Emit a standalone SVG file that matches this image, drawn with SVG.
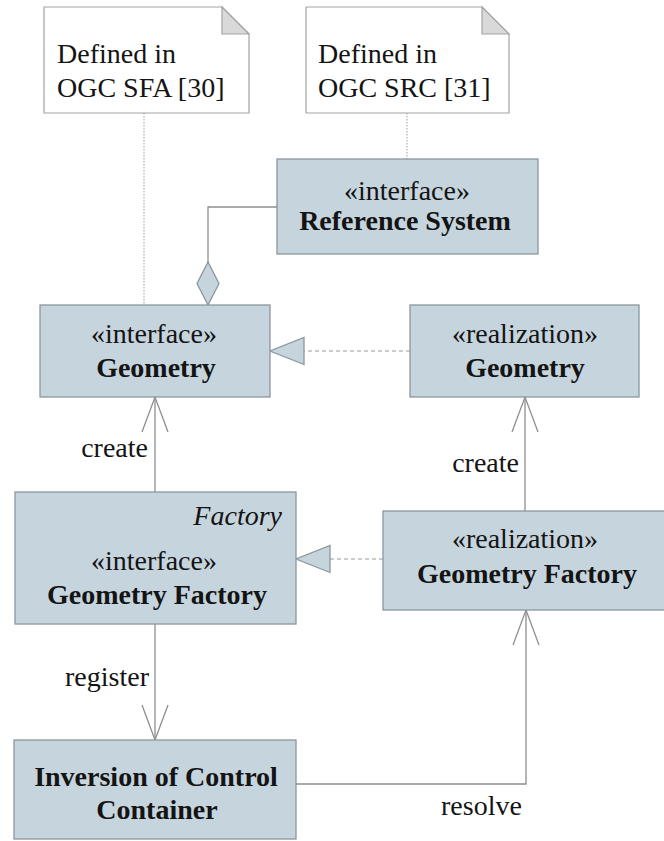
<svg xmlns="http://www.w3.org/2000/svg" width="664" height="841" viewBox="0 0 664 841">
  <style>
    .box { fill: #c6d4de; stroke: #8c979d; stroke-width: 1.3; }
    .note { fill: #ffffff; stroke: #a3a3a3; stroke-width: 1.2; }
    .fold { fill: #d9d9d9; stroke: #a3a3a3; stroke-width: 1.2; }
    .t { font-family: "Liberation Serif", "Times New Roman", serif; font-size: 28px; fill: #141414; }
    .c { text-anchor: middle; }
    .b { font-weight: bold; }
    .i { font-style: italic; }
    .link { fill: none; stroke: #8e8e8e; stroke-width: 1.3; }
    .dash { fill: none; stroke: #9a9a9a; stroke-width: 1.2; stroke-dasharray: 4 3; }
    .dot { fill: none; stroke: #b0b0b0; stroke-width: 1.2; stroke-dasharray: 1.5 1.5; }
    .head { fill: none; stroke: #8e8e8e; stroke-width: 1.3; stroke-dasharray: none; }
    .tri { fill: #c6d4de; stroke: #8c979d; stroke-width: 1.3; stroke-dasharray: none; }
  </style>
  <defs>
    <!-- open arrowhead for dependencies -->
    <marker id="open" markerUnits="userSpaceOnUse" viewBox="-37 -15 39 30" refX="0" refY="0" markerWidth="39" markerHeight="30" orient="auto" overflow="visible">
      <path class="head" d="M-35,-13 L0,0 L-35,13"/>
    </marker>
    <!-- hollow triangle for realization -->
    <marker id="realize" markerUnits="userSpaceOnUse" viewBox="-36 -15 38 30" refX="0" refY="0" markerWidth="38" markerHeight="30" orient="auto" overflow="visible">
      <path class="tri" d="M-34,-13.5 L0,0 L-34,13.5 Z"/>
    </marker>
    <!-- filled diamond for composition -->
    <marker id="diamond" markerUnits="userSpaceOnUse" viewBox="-1 -12 45 24" refX="0" refY="0" markerWidth="45" markerHeight="24" orient="auto" overflow="visible">
      <path class="tri" d="M0,0 L21.5,-11 L43,0 L21.5,11 Z"/>
    </marker>
  </defs>

  <!-- connectors -->
  <g id="connectors">
    <path class="dot" d="M144,113 V305"/>
    <path class="dot" d="M407,113 V159"/>
    <path class="link" d="M208,305 V207 H277" marker-start="url(#diamond)"/>
    <path class="dash" d="M410,351 H270" marker-end="url(#realize)"/>
    <path class="dash" d="M383,559 H296" marker-end="url(#realize)"/>
    <path class="link" d="M155,492 V397" marker-end="url(#open)"/>
    <path class="link" d="M525,511 V397" marker-end="url(#open)"/>
    <path class="link" d="M155,624 V740" marker-end="url(#open)"/>
    <path class="link" d="M296,784 H526 V610" marker-end="url(#open)"/>
    <text class="t" x="148" y="457" text-anchor="end">create</text>
    <text class="t" x="519" y="472" text-anchor="end">create</text>
    <text class="t" x="149" y="686" text-anchor="end">register</text>
    <text class="t" x="441" y="815">resolve</text>
  </g>

  <!-- notes -->
  <g id="note-sfa">
    <path class="note" d="M44,7 H222 L249,34 V113 H44 Z"/>
    <path class="fold" d="M222,7 V34 H249 Z"/>
    <text class="t" x="57" y="63">Defined in</text>
    <text class="t" x="57" y="97">OGC SFA [30]</text>
  </g>
  <g id="note-src">
    <path class="note" d="M306,7 H482 L509,34 V113 H306 Z"/>
    <path class="fold" d="M482,7 V34 H509 Z"/>
    <text class="t" x="318" y="63">Defined in</text>
    <text class="t" x="318" y="97">OGC SRC [31]</text>
  </g>

  <!-- classes -->
  <g id="reference-system">
    <rect class="box" x="277" y="159" width="261" height="95"/>
    <text class="t c" x="407" y="200">«interface»</text>
    <text class="t c b" x="405" y="230">Reference System</text>
  </g>
  <g id="geometry-interface">
    <rect class="box" x="40" y="305" width="230" height="92"/>
    <text class="t c" x="154" y="343">«interface»</text>
    <text class="t c b" x="156" y="377">Geometry</text>
  </g>
  <g id="geometry-realization">
    <rect class="box" x="410" y="305" width="229" height="92"/>
    <text class="t c" x="525" y="343">«realization»</text>
    <text class="t c b" x="525" y="377">Geometry</text>
  </g>
  <g id="factory-interface">
    <rect class="box" x="15" y="492" width="281" height="132"/>
    <text class="t i" x="282" y="525" text-anchor="end">Factory</text>
    <text class="t c" x="154" y="570">«interface»</text>
    <text class="t c b" x="157" y="604">Geometry Factory</text>
  </g>
  <g id="factory-realization">
    <rect class="box" x="383" y="511" width="285" height="99"/>
    <text class="t c" x="525" y="548">«realization»</text>
    <text class="t c b" x="527" y="583">Geometry Factory</text>
  </g>
  <g id="ioc-container">
    <rect class="box" x="14" y="740" width="282" height="99"/>
    <text class="t c b" x="156" y="786">Inversion of Control</text>
    <text class="t c b" x="157" y="819">Container</text>
  </g>
</svg>
